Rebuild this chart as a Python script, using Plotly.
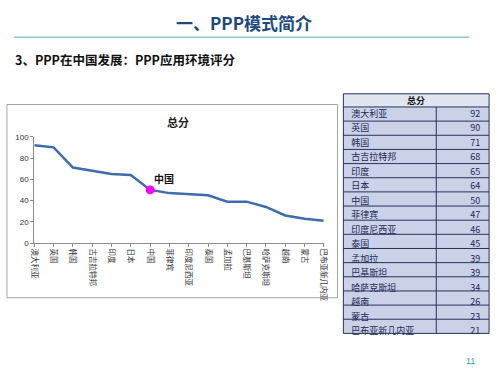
import plotly.graph_objects as go

countries = ["澳大利亚", "英国", "韩国", "古吉拉特邦", "印度", "日本", "中国", "菲律宾",
             "印度尼西亚", "泰国", "孟加拉", "巴基斯坦", "哈萨克斯坦", "越南", "蒙古", "巴布亚新几内亚"]
scores = [92, 90, 71, 68, 65, 64, 50, 47, 46, 45, 39, 39, 34, 26, 23, 21]
highlight = "中国"
table_header = "总分"
chart_title = "总分"
page_title = "一、PPP模式简介"
subtitle = "3、PPP在中国发展：PPP应用环境评分"

W, H = 500, 375
def px(x): return x / W
def py(y): return 1 - y / H

cjk = "Noto Sans CJK SC"
xs = list(range(len(countries)))
hi = countries.index(highlight)

# table geometry (pixels)
T_L, T_R, T_TOP, HDR_H, ROW_H, T_SPLIT = 347, 496, 92, 13.5, 14.5, 442
n_rows = len(countries)
T_BOT = T_TOP + HDR_H + n_rows * ROW_H
TEXT_SHIFT = 5.5
line_col = "#25345e"

fig = go.Figure()
fig.add_trace(go.Scatter(x=xs, y=scores, mode="lines",
                         line=dict(color="#3d6db0", width=2.5),
                         hoverinfo="skip", showlegend=False))
fig.add_trace(go.Scatter(x=[xs[hi]], y=[scores[hi]], mode="markers",
                         marker=dict(color="#ff00ff", size=9),
                         hoverinfo="skip", showlegend=False))

fig.add_trace(go.Table(
    domain=dict(x=[px(T_L), px(T_R)], y=[py(T_BOT + 5), py(T_TOP - TEXT_SHIFT)]),
    columnwidth=[T_SPLIT - T_L, T_R - T_SPLIT],
    header=dict(values=["", ""], height=HDR_H, fill_color="rgba(0,0,0,0)",
                font=dict(size=6), line=dict(width=0, color="rgba(0,0,0,0)")),
    cells=dict(values=[countries, scores], height=ROW_H,
               align=["left", "right"],
               fill_color="rgba(0,0,0,0)",
               line=dict(width=0, color="rgba(0,0,0,0)"),
               font=dict(family=cjk, size=9, color="#1b2a55")),
))

shapes = [
    dict(type="line", xref="paper", yref="paper", x0=px(10), x1=px(476),
         y0=py(34), y1=py(34), line=dict(color="#93c3d8", width=1.5)),
    dict(type="rect", xref="paper", yref="paper", x0=px(3), x1=px(341),
         y0=py(301), y1=py(103), line=dict(color="#a6a6a6", width=1)),
    dict(type="rect", xref="paper", yref="paper", x0=px(T_L), x1=px(T_R),
         y0=py(T_TOP + HDR_H), y1=py(T_TOP), fillcolor="#e0e5f0",
         line=dict(width=0), layer="below"),
    dict(type="rect", xref="paper", yref="paper", x0=px(T_L), x1=px(T_R),
         y0=py(T_BOT), y1=py(T_TOP + HDR_H), fillcolor="#cbd1e7",
         line=dict(width=0), layer="below"),
    dict(type="line", xref="paper", yref="paper", x0=px(T_SPLIT), x1=px(T_SPLIT),
         y0=py(T_BOT), y1=py(T_TOP + HDR_H), line=dict(color=line_col, width=1)),
    dict(type="rect", xref="paper", yref="paper", x0=px(T_L), x1=px(T_R),
         y0=py(T_BOT), y1=py(T_TOP), line=dict(color=line_col, width=1)),
]
for i in range(n_rows):
    yy = T_TOP + HDR_H + i * ROW_H
    shapes.append(dict(type="line", xref="paper", yref="paper", x0=px(T_L), x1=px(T_R),
                       y0=py(yy), y1=py(yy), line=dict(color=line_col, width=1)))

def ann(text, x, y, size, color, family=cjk, xanchor="center"):
    return dict(text=text, x=px(x), y=py(y), xref="paper", yref="paper",
                xanchor=xanchor, yanchor="middle", showarrow=False,
                font=dict(family=family, size=size, color=color))

annotations = [
    ann("<b>" + page_title + "</b>", 245, 19, 17, "#1c4a7c"),
    ann("<b>" + subtitle + "</b>", 9, 57, 12.5, "#111", xanchor="left"),
    ann("<b>" + chart_title + "</b>", 178, 121, 11, "#222"),
    ann("<b>" + table_header + "</b>", 421, T_TOP + HDR_H / 2, 9, "#111"),
    ann("11", 477, 366, 9, "#2aa5b5", family="Liberation Sans"),
    dict(text="<b>" + highlight + "</b>", x=xs[hi], y=scores[hi], xref="x", yref="y",
         xanchor="left", yanchor="middle", xshift=2, yshift=11, showarrow=False,
         font=dict(family=cjk, size=10, color="#111")),
]

fig.update_layout(
    width=W, height=H, autosize=False,
    margin=dict(l=0, r=0, t=0, b=0),
    paper_bgcolor="white", plot_bgcolor="white",
    xaxis=dict(domain=[px(31), px(327)], range=[0, len(countries) - 1],
               tickmode="array", tickvals=xs, ticktext=countries,
               tickangle=90, tickfont=dict(family=cjk, size=7.5, color="#333"),
               showgrid=False, zeroline=False, showline=True, linecolor="#8c8c8c",
               ticks="outside", ticklen=3, tickcolor="#8c8c8c"),
    yaxis=dict(domain=[py(245), py(136)], range=[0, 100], dtick=20,
               tickfont=dict(family="Liberation Sans", size=8, color="#333"),
               showgrid=False, zeroline=False, showline=True, linecolor="#8c8c8c",
               ticks="outside", ticklen=3, tickcolor="#8c8c8c"),
    font=dict(family=cjk),
    shapes=shapes,
    annotations=annotations,
)

fig.write_html("out.html")
